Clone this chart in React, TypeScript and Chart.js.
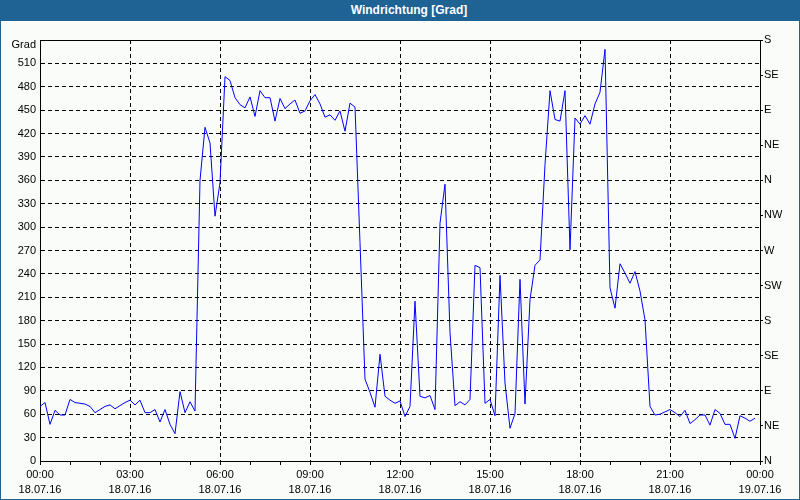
import React, { useEffect, useRef } from 'react';
import { Chart, registerables } from 'chart.js';

Chart.register(...registerables);

const TITLE = 'Windrichtung [Grad]';
const STEP_MINUTES = 10;

// wind direction in degrees, one value every 10 minutes from 18.07.16 00:00
const windDirection = [
  70, 75, 47, 65, 59, 59, 79, 75, 74, 73,
  70, 62, 66, 70, 72, 67, 71, 75, 78, 72,
  78, 62, 62, 66, 50, 66, 47, 35, 89, 62,
  76, 64, 360, 428, 408, 314, 357, 493, 488, 466,
  457, 453, 467, 442, 475, 466, 466, 436, 465, 452,
  458, 463, 446, 449, 462, 470, 458, 441, 444, 437,
  449, 423, 459, 454, 280, 105, 88, 69, 137, 83,
  78, 74, 77, 57, 70, 205, 83, 81, 84, 66,
  305, 355, 165, 71, 76, 72, 79, 251, 248, 74,
  79, 58, 238, 100, 42, 61, 233, 73, 207, 251,
  258, 380, 475, 438, 436, 475, 271, 440, 432, 443,
  432, 458, 473, 528, 222, 196, 253, 241, 228, 243,
  218, 181, 70, 59, 60, 63, 66, 62, 57, 65,
  48, 53, 59, 59, 46, 66, 61, 47, 47, 29,
  58, 55, 51, 55,
];

const xTickTimes = ['00:00', '03:00', '06:00', '09:00', '12:00', '15:00', '18:00', '21:00', '00:00'];
const xTickDates = ['18.07.16', '18.07.16', '18.07.16', '18.07.16', '18.07.16', '18.07.16', '18.07.16', '18.07.16', '19.07.16'];
const compassLabels = ['N', 'NE', 'E', 'SE', 'S', 'SW', 'W', 'NW', 'N', 'NE', 'E', 'SE', 'S'];
const leftUnitLabel = 'Grad';

const FONT = { family: '"Liberation Sans", Arial, sans-serif', size: 11 };

export default function App() {
  const canvasRef = useRef<HTMLCanvasElement>(null);

  useEffect(() => {
    document.body.style.margin = '0';
    const canvas = canvasRef.current;
    if (!canvas) return;

    const frameAndUnit = {
      id: 'frameAndUnit',
      afterDraw(chart: any) {
        const { ctx, chartArea } = chart;
        ctx.save();
        ctx.strokeStyle = '#000';
        ctx.lineWidth = 1;
        ctx.setLineDash([]);
        ctx.beginPath();
        const y = Math.round(chartArea.top) + 0.5;
        ctx.moveTo(chartArea.left, y);
        ctx.lineTo(chartArea.right + 1, y);
        ctx.stroke();
        // unit label at the top of the left axis, slightly below the top line
        ctx.fillStyle = '#000';
        ctx.font = `${FONT.size}px ${FONT.family}`;
        ctx.textAlign = 'right';
        ctx.textBaseline = 'middle';
        ctx.fillText(leftUnitLabel, chartArea.left - 4, chartArea.top + 5);
        ctx.restore();
      },
    };

    const chart = new Chart(canvas, {
      type: 'line',
      data: {
        datasets: [
          {
            data: windDirection.map((v, i) => ({ x: i * STEP_MINUTES, y: v })),
            borderColor: '#0000ff',
            borderWidth: 1,
            pointRadius: 0,
            tension: 0,
            fill: false,
          },
        ],
      },
      options: {
        animation: false,
        responsive: false,
        maintainAspectRatio: false,
        layout: { padding: { top: 19, left: 0, right: 0, bottom: 0 } },
        plugins: { legend: { display: false }, tooltip: { enabled: false }, title: { display: false } },
        scales: {
          x: {
            type: 'linear',
            min: 0,
            max: 1440,
            afterFit: (s: any) => {
              s.height = 38;
            },
            ticks: {
              stepSize: 60,
              autoSkip: false,
              maxRotation: 0,
              minRotation: 0,
              padding: 2,
              color: '#000',
              font: { ...FONT, lineHeight: '15px' },
              callback: (v: any) => {
                const n = Number(v);
                if (n % 180 !== 0) return '';
                const k = n / 180;
                return [xTickTimes[k], xTickDates[k]];
              },
            },
            grid: {
              color: (c: any) => (c.tick && c.tick.value % 180 === 0 ? '#000' : 'rgba(0,0,0,0)'),
              tickColor: '#000',
              tickLength: 4,
              lineWidth: 1,
            },
            border: { color: '#000', width: 1, dash: [4, 3] },
          },
          y: {
            type: 'linear',
            position: 'left',
            min: 0,
            max: 540,
            afterFit: (s: any) => {
              s.width = 39;
            },
            ticks: {
              stepSize: 30,
              padding: 4,
              color: '#000',
              font: FONT,
              callback: (v: any) => (Number(v) === 540 ? '' : String(v)),
            },
            grid: { color: '#000', lineWidth: 1, drawTicks: false },
            border: { color: '#000', width: 1, dash: [4, 3] },
          },
          y2: {
            type: 'linear',
            position: 'right',
            min: 0,
            max: 540,
            afterFit: (s: any) => {
              s.width = 39;
            },
            ticks: {
              stepSize: 45,
              padding: 1,
              color: '#000',
              font: FONT,
              callback: (v: any) => compassLabels[Math.round(Number(v) / 45)] ?? '',
            },
            grid: { drawOnChartArea: false, tickColor: '#000', tickLength: 3, color: '#000' },
            border: { color: '#000', width: 1 },
          },
        },
      },
      plugins: [frameAndUnit],
    } as any);

    return () => chart.destroy();
  }, []);

  return (
    <div style={{ position: 'fixed', left: 0, top: 0, width: 800, height: 500, background: '#1f6294', overflow: 'hidden' }}>
      <div
        style={{
          position: 'absolute',
          left: 0,
          top: 0,
          width: 800,
          height: 21,
          boxSizing: 'border-box',
          paddingLeft: 18,
          textAlign: 'center',
          color: '#ffffff',
          font: 'bold 12px "Liberation Sans", Arial, sans-serif',
          lineHeight: '20px',
        }}
      >
        {TITLE}
      </div>
      <div style={{ position: 'absolute', left: 1, top: 21, width: 798, height: 478, background: '#f9fcf9' }}>
        <canvas ref={canvasRef} width={798} height={478} style={{ display: 'block', width: 798, height: 478 }} />
      </div>
    </div>
  );
}
